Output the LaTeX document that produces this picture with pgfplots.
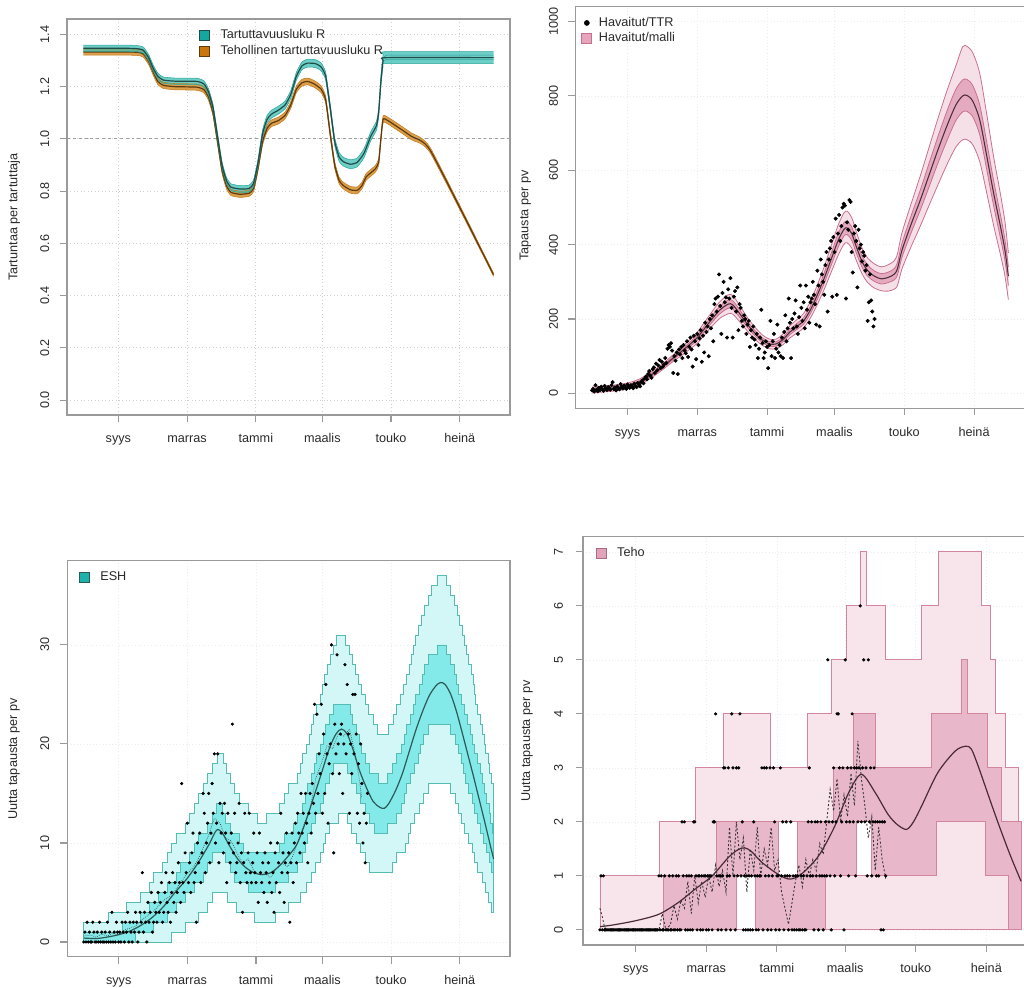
\documentclass[border=0pt]{standalone}
\usepackage{fontspec}
\setmainfont{Liberation Sans}
\usepackage{pgfplots}
\pgfplotsset{compat=1.18}
\usepackage{pgfplotstable}
\usepgfplotslibrary{fillbetween}

\definecolor{axgray}{HTML}{9A9A9A}
\definecolor{txt}{HTML}{2A2A2A}
\definecolor{tealF}{HTML}{3CBDB3}
\definecolor{tealE}{HTML}{2AA79D}
\definecolor{tealC}{HTML}{1F4C48}
\definecolor{tealL}{HTML}{15A69D}
\definecolor{orF}{HTML}{D68E2E}
\definecolor{orE}{HTML}{C27A18}
\definecolor{orC}{HTML}{5E3A0E}
\definecolor{orL}{HTML}{C9760E}
\definecolor{pkO}{HTML}{F6E0E8}
\definecolor{pkI}{HTML}{E4ABC0}
\definecolor{pkE}{HTML}{C9708F}
\definecolor{pkC}{HTML}{4E2C39}
\definecolor{pkL}{HTML}{E6A5BC}
\definecolor{cyO}{HTML}{D3F6F6}
\definecolor{cyI}{HTML}{84E9E9}
\definecolor{cyE}{HTML}{55BCB2}
\definecolor{cyC}{HTML}{2C5A56}
\definecolor{cyL}{HTML}{1DB2AB}
\definecolor{p4O}{HTML}{F8E5EC}
\definecolor{p4I}{HTML}{E8B8CA}
\definecolor{p4E}{HTML}{D3859E}
\definecolor{p4C}{HTML}{4A2A36}
\definecolor{p4L}{HTML}{E2A3B9}

\pgfplotsset{
  rbase/.style={
    scale only axis,
    xmin=-45.6, xmax=347.6,
    axis line style={draw=axgray, line width=0.8pt},
    xtick={0,61,122,181,242,303},
    xticklabels={syys,marras,tammi,maalis,touko,heinä},
    tick align=outside, tick pos=left,
    major tick length=5.25pt,
    tick style={draw=axgray, line width=0.8pt},
    grid=major,
    major grid style={draw=gray!22, dotted, line width=0.6pt},
    ticklabel style={font=\fontsize{9.5}{11}\selectfont, text=txt, inner sep=0pt},
    /pgf/number format/assume math mode=true,
    xticklabel style={anchor=base},
    xticklabel shift=15.75pt,
    yticklabel style={rotate=90, anchor=south},
    label style={font=\fontsize{9.5}{11}\selectfont, text=txt},
    legend style={draw=none, fill=none, font=\fontsize{9.5}{11}\selectfont, text=txt,
      nodes={inner sep=0pt, text height=7pt, text depth=2pt},
      row sep=3pt, column sep=8.25pt, inner sep=0pt, anchor=north west},
    legend cell align=left,
  }
}

% ---------- panel 1 tables
\pgfplotstableread{
x c lo hi
-31 1.347 1.335 1.359
0 1.347 1.335 1.359
15 1.346 1.334 1.358
22 1.340 1.328 1.352
27 1.310 1.298 1.322
31 1.270 1.258 1.282
35 1.240 1.228 1.252
40 1.225 1.213 1.237
50 1.221 1.209 1.233
70 1.220 1.208 1.232
76 1.210 1.198 1.222
80 1.180 1.168 1.192
84 1.120 1.108 1.132
88 1.010 0.998 1.022
92 0.900 0.888 0.912
96 0.840 0.828 0.852
100 0.815 0.802 0.828
108 0.808 0.795 0.821
116 0.810 0.797 0.823
120 0.830 0.817 0.843
124 0.910 0.897 0.923
128 1.020 1.005 1.035
132 1.075 1.060 1.090
136 1.095 1.080 1.110
142 1.110 1.095 1.125
148 1.130 1.115 1.145
153 1.170 1.155 1.185
158 1.240 1.225 1.255
163 1.280 1.265 1.295
168 1.290 1.275 1.305
175 1.288 1.273 1.303
180 1.275 1.260 1.290
184 1.240 1.225 1.255
188 1.120 1.105 1.135
192 0.990 0.975 1.005
196 0.930 0.913 0.947
200 0.912 0.895 0.929
206 0.903 0.886 0.920
212 0.910 0.893 0.927
218 0.945 0.928 0.962
224 1.010 0.993 1.027
229 1.050 1.033 1.067
231 1.100 1.083 1.117
233 1.220 1.200 1.240
235 1.300 1.278 1.322
238 1.311 1.288 1.334
333 1.311 1.288 1.334
}\ponet

\pgfplotstableread{
x c lo hi
-31 1.333 1.321 1.345
15 1.332 1.320 1.344
22 1.325 1.313 1.337
27 1.295 1.283 1.307
31 1.255 1.243 1.267
35 1.220 1.208 1.232
40 1.205 1.193 1.217
50 1.200 1.188 1.212
70 1.198 1.186 1.210
76 1.188 1.176 1.200
80 1.160 1.148 1.172
84 1.100 1.088 1.112
88 0.990 0.978 1.002
92 0.880 0.868 0.892
96 0.820 0.808 0.832
100 0.795 0.783 0.807
108 0.788 0.776 0.800
116 0.792 0.780 0.804
120 0.810 0.798 0.822
124 0.890 0.878 0.902
128 0.990 0.977 1.003
132 1.040 1.027 1.053
136 1.060 1.047 1.073
142 1.070 1.057 1.083
148 1.090 1.077 1.103
153 1.130 1.117 1.143
158 1.190 1.177 1.203
163 1.215 1.202 1.228
168 1.220 1.207 1.233
174 1.210 1.197 1.223
180 1.190 1.177 1.203
184 1.150 1.137 1.163
188 1.020 1.007 1.033
192 0.900 0.887 0.913
196 0.840 0.827 0.853
200 0.820 0.807 0.833
206 0.805 0.792 0.818
212 0.803 0.790 0.816
216 0.820 0.807 0.833
220 0.855 0.842 0.868
224 0.870 0.857 0.883
228 0.885 0.872 0.898
231 0.910 0.897 0.923
233 1.000 0.987 1.013
235 1.075 1.062 1.088
240 1.068 1.055 1.081
260 1.010 0.997 1.023
277 0.955 0.945 0.965
333 0.480 0.474 0.486
}\poneo

% ---------- panel 2 table
\pgfplotstableread{
x c ol il ih oh
-31 9 1 5 13 17
-20 12 4 8 16 20
-10 15 7 11 19 23
0 20 12 16 24 28
10 30 22 26 34 38
20 48 40 44 52 56
30 70 62 66 74 78
40 95 86 91 99 104
50 120 108 115 125 132
61 150 135 143 157 165
70 185 167 177 193 203
80 222 200 212 232 244
88 240 214 229 251 265
92 238 213 227 249 263
98 215 193 205 225 237
105 185 167 177 193 203
112 160 144 153 167 176
118 143 129 137 149 157
124 133 120 127 139 146
130 133 120 127 139 146
136 145 131 139 151 160
142 165 149 158 172 182
148 180 162 172 188 198
154 195 176 186 204 215
160 225 203 215 235 248
166 265 239 253 277 292
172 310 280 296 324 341
178 360 325 344 376 396
184 410 370 392 428 451
189 440 400 422 458 484
192 445 405 427 463 490
196 430 391 412 448 473
200 395 358 378 412 435
205 355 322 340 370 391
210 330 298 315 345 364
216 315 283 301 329 348
222 308 276 294 322 340
228 312 275 298 326 346
233 320 280 305 335 356
236 335 290 318 352 375
240 385 335 366 404 432
248 455 395 432 478 510
256 520 450 493 547 585
264 590 508 558 622 665
272 660 565 624 696 745
280 725 620 685 765 820
287 775 662 733 817 880
293 800 682 757 843 932
297 801 682 758 844 933
302 785 668 743 827 915
308 735 623 695 775 860
314 640 540 603 677 752
320 540 453 506 574 638
326 450 374 419 481 537
330 385 316 357 413 462
333 315 252 290 340 378
}\ptwo

\begin{document}
\begin{tikzpicture}

% =================== PANEL 1 ===================
\begin{axis}[rbase, at={(50.25pt,429.75pt)}, anchor=south west,
  width=332.25pt, height=297pt,
  ymin=-0.057, ymax=1.459, ytick={0,0.2,0.4,0.6,0.8,1.0,1.2,1.4},
  yticklabel style={/pgf/number format/fixed, /pgf/number format/fixed zerofill, /pgf/number format/precision=1},
  yticklabel shift=7.9pt,
  ylabel={Tartuntaa per tartuttaja},
  ylabel style={at={([xshift=-39.75pt]axis description cs:0,0.5)}, anchor=center},
  legend style={at={(0.297,0.975)}},
  major grid style={draw=gray!38, dotted, line width=0.7pt},
]
\addlegendimage{legend image code/.code={\draw[fill=tealL, draw=tealC, line width=0.5pt] (0pt,-3.75pt) rectangle (7.5pt,3.75pt);}}
\addlegendentry{Tartuttavuusluku R}
\addlegendimage{legend image code/.code={\draw[fill=orL, draw=orC, line width=0.5pt] (0pt,-3.75pt) rectangle (7.5pt,3.75pt);}}
\addlegendentry{Tehollinen tartuttavuusluku R}

\addplot[gray!75, dash pattern=on 2.2pt off 2.2pt, line width=0.8pt] coordinates {(-45.6,1) (347.6,1)};

% orange band
\addplot[name path=o1h, draw=none, smooth, tension=0.3] table[x=x,y=hi]{\poneo};
\addplot[name path=o1l, draw=none, smooth, tension=0.3] table[x=x,y=lo]{\poneo};
\addplot[fill=orF, fill opacity=0.85, draw=none] fill between[of=o1h and o1l];
\addplot[orE, line width=0.4pt, smooth, tension=0.3] table[x=x,y=hi]{\poneo};
\addplot[orE, line width=0.4pt, smooth, tension=0.3] table[x=x,y=lo]{\poneo};
\addplot[orC, line width=0.9pt, smooth, tension=0.3] table[x=x,y=c]{\poneo};

% teal band
\addplot[name path=t1h, draw=none, smooth, tension=0.3] table[x=x,y=hi]{\ponet};
\addplot[name path=t1l, draw=none, smooth, tension=0.3] table[x=x,y=lo]{\ponet};
\addplot[fill=tealF, fill opacity=0.75, draw=none] fill between[of=t1h and t1l];
\addplot[tealE, line width=0.4pt, smooth, tension=0.3] table[x=x,y=hi]{\ponet};
\addplot[tealE, line width=0.4pt, smooth, tension=0.3] table[x=x,y=lo]{\ponet};
\addplot[tealE, line width=0.4pt] coordinates {(236,1.300) (238,1.304) (333,1.304)};
\addplot[tealE, line width=0.4pt] coordinates {(236,1.314) (238,1.321) (333,1.321)};
\addplot[tealC, line width=0.9pt, smooth, tension=0.3] table[x=x,y=c]{\ponet};
\end{axis}

% =================== PANEL 2 ===================
\begin{axis}[rbase, at={(431.5pt,434.8pt)}, anchor=south west,
  width=337.3pt, height=301.2pt,
  ymin=-40, ymax=1040, ytick={0,200,400,600,800,1000},
  yticklabel style={/pgf/number format/1000 sep={}},
  yticklabel shift=7.6pt,
  ylabel={Tapausta per pv},
  ylabel style={at={([xshift=-37.5pt]axis description cs:0,0.48)}, anchor=center},
  legend style={at={(0.013,0.975)}, column sep=5pt, row sep=2.25pt},
  major grid style={draw=gray!15, line width=0.5pt},
]
\addlegendimage{legend image code/.code={\fill[black] (3.75pt,0pt) circle (1.9pt);}}
\addlegendentry{Havaitut/TTR}
\addlegendimage{legend image code/.code={\draw[fill=pkL, draw=pkE, line width=0.6pt] (0pt,-3.75pt) rectangle (7.5pt,3.75pt);}}
\addlegendentry{Havaitut/malli}

\addplot[name path=p2oh, draw=none, smooth] table[x=x,y=oh]{\ptwo};
\addplot[name path=p2ol, draw=none, smooth] table[x=x,y=ol]{\ptwo};
\addplot[fill=pkO, draw=none] fill between[of=p2oh and p2ol];
\addplot[name path=p2ih, draw=none, smooth] table[x=x,y=ih]{\ptwo};
\addplot[name path=p2il, draw=none, smooth] table[x=x,y=il]{\ptwo};
\addplot[fill=pkI, draw=none] fill between[of=p2ih and p2il];
\addplot[pkE, line width=0.6pt, smooth] table[x=x,y=oh]{\ptwo};
\addplot[pkE, line width=0.6pt, smooth] table[x=x,y=ol]{\ptwo};
\addplot[pkE, line width=0.6pt, smooth] table[x=x,y=ih]{\ptwo};
\addplot[pkE, line width=0.6pt, smooth] table[x=x,y=il]{\ptwo};
\addplot[pkC, line width=0.8pt, smooth] table[x=x,y=c]{\ptwo};

\addplot[only marks, mark=*, mark size=1.3pt, black] coordinates {
(-31,8) (-30,12) (-29,5) (-28,22) (-27,10) (-26,6) (-25,15) (-24,9) (-23,18) (-22,11) (-21,7) (-20,20) (-19,13) (-18,9) (-17,17) (-16,14) (-15,10) (-14,22) (-13,30) (-12,12) (-11,16) (-10,8) (-9,19) (-8,14) (-7,11) (-6,25) (-5,17) (-4,13) (-3,21) (-2,16) (-1,12) (0,24) (1,18) (2,15) (3,22) (4,19) (5,14) (6,26) (7,20) (8,17) (9,28) (10,24) (11,19) (12,30) (13,35) (14,27) (15,40) (16,45) (17,38) (18,52) (19,60) (20,48) (21,42) (22,65) (23,70) (24,55) (25,80) (26,62) (27,75) (28,90) (29,68) (30,85) (31,72) (32,78) (33,95) (34,82) (35,120) (36,130) (37,125) (38,135) (39,115) (40,55) (41,100) (42,88) (43,110) (44,52) (45,118) (46,105) (47,125) (48,95) (49,130) (50,115) (51,108) (52,140) (53,98) (54,125) (55,150) (56,118) (57,72) (58,155) (59,140) (60,92) (61,160) (62,130) (63,148) (64,170) (65,85) (66,155) (67,110) (68,190) (69,165) (70,180) (71,100) (72,200) (73,175) (74,210) (75,140) (76,240) (77,255) (78,220) (79,260) (80,320) (81,235) (82,160) (83,270) (84,300) (85,245) (86,258) (87,150) (88,280) (89,255) (90,310) (91,230) (92,150) (93,260) (94,275) (95,220) (96,285) (97,170) (98,240) (99,230) (100,195) (101,180) (102,210) (103,200) (104,160) (105,185) (106,195) (107,125) (108,170) (109,150) (110,180) (111,145) (112,130) (113,160) (114,95) (115,120) (116,150) (117,225) (118,135) (119,95) (120,110) (121,140) (122,125) (123,68) (124,130) (125,195) (126,100) (127,140) (128,160) (129,95) (130,120) (131,185) (132,110) (133,130) (134,100) (135,150) (136,95) (137,165) (138,210) (139,140) (140,175) (141,255) (142,190) (143,95) (144,200) (145,175) (146,215) (147,250) (148,180) (149,160) (150,205) (151,290) (152,230) (153,195) (154,245) (155,175) (156,290) (157,225) (158,260) (159,190) (160,245) (161,255) (162,300) (163,265) (164,240) (165,185) (166,330) (167,290) (168,180) (169,360) (170,320) (171,300) (172,265) (173,345) (174,380) (175,220) (176,360) (177,390) (178,410) (179,260) (180,420) (181,380) (182,470) (183,265) (184,430) (185,480) (186,410) (187,450) (188,500) (189,510) (190,505) (191,255) (192,460) (193,440) (194,520) (195,515) (196,380) (197,325) (198,430) (199,450) (200,410) (201,285) (202,440) (203,390) (204,400) (205,355) (206,380) (207,370) (208,330) (209,345) (210,195) (211,245) (212,320) (213,250) (214,220) (215,180) (216,200)
};
\end{axis}

% =================== PANEL 3 ===================
\begin{axis}[rbase, at={(50.5pt,23.5pt)}, anchor=south west,
  width=332pt, height=296.8pt,
  ymin=-1.48, ymax=38.48, ytick={0,10,20,30},
  yticklabel shift=8.1pt,
  ylabel={Uutta tapausta per pv},
  ylabel style={at={([xshift=-40pt]axis description cs:0,0.5)}, anchor=center},
  legend style={at={(0.025,0.974)}},
  major grid style={draw=gray!15, line width=0.5pt},
]
\addlegendimage{legend image code/.code={\draw[fill=cyL, draw=cyC, line width=0.5pt] (0pt,-3.75pt) rectangle (7.5pt,3.75pt);}}
\addlegendentry{ESH}

\addplot[name path=p3ou, draw=none, const plot mark left] coordinates {(-31,2) (-9,3) (7,4) (19,5) (27,6) (31,7) (39,8) (43,9) (47,10) (51,11) (59,12) (63,13) (67,14) (71,15) (75,16) (79,17) (83,18) (88,19) (93,18) (96,17) (99,16) (103,15) (107,14) (115,13) (123,12) (131,13) (143,14) (147,15) (151,16) (159,17) (161,18) (163,19) (167,20) (169,21) (171,22) (173,23) (176,24) (179,25) (181,26) (183,27) (185,28) (188,29) (191,30) (193,31) (201,30) (205,29) (208,28) (210,27) (213,26) (216,25) (219,24) (222,23) (226,22) (230,21) (240,22) (244,23) (247,24) (250,25) (253,26) (256,27) (258,28) (260,29) (262,30) (264,31) (266,32) (269,33) (272,34) (275,35) (278,36) (283,37) (291,36) (295,35) (298,34) (301,33) (303,32) (305,31) (307,30) (309,29) (311,28) (313,27) (315,26) (316,25) (317,24) (319,23) (321,22) (323,21) (325,20) (326,19) (328,18) (329,17) (331,16) (333,15)};
\addplot[name path=p3ol, draw=none, const plot mark left] coordinates {(-31,0) (47,1) (59,2) (71,3) (79,4) (83,5) (97,4) (105,3) (121,2) (139,3) (151,4) (161,5) (167,6) (171,7) (175,8) (179,9) (182,10) (184,11) (187,12) (195,13) (203,12) (207,11) (211,10) (215,9) (219,8) (223,7) (243,8) (247,9) (255,10) (257,11) (259,12) (263,13) (267,14) (271,15) (275,16) (295,15) (299,14) (302,13) (304,12) (307,11) (311,10) (314,9) (316,8) (319,7) (323,6) (326,5) (328,4) (331,3) (333,3)};
\addplot[fill=cyO, draw=none] fill between[of=p3ou and p3ol];
\addplot[name path=p3iu, draw=none, const plot mark left] coordinates {(-31,1) (3,2) (19,3) (27,4) (35,5) (43,6) (51,7) (55,8) (63,9) (67,10) (71,11) (79,12) (83,13) (87,14) (92,13) (95,12) (99,11) (107,10) (111,9) (143,10) (147,11) (155,12) (159,13) (163,14) (166,15) (168,16) (171,17) (174,18) (176,19) (179,20) (182,21) (184,22) (187,23) (191,24) (206,23) (208,22) (211,21) (214,20) (216,19) (219,18) (223,17) (231,16) (239,17) (243,18) (247,19) (251,20) (254,21) (256,22) (259,23) (262,24) (264,25) (267,26) (270,27) (272,28) (275,29) (283,30) (291,29) (295,28) (298,27) (300,26) (302,25) (304,24) (307,23) (310,22) (312,21) (314,20) (316,19) (319,18) (321,17) (323,16) (325,15) (327,14) (329,13) (330,12) (332,11) (333,10)};
\addplot[name path=p3il, draw=none, const plot mark left] coordinates {(-31,0) (15,1) (31,2) (43,3) (51,4) (59,5) (67,6) (75,7) (79,8) (83,9) (95,8) (99,7) (103,6) (115,5) (139,6) (151,7) (159,8) (163,9) (166,10) (168,11) (171,12) (175,13) (179,14) (182,15) (184,16) (187,17) (191,18) (203,17) (207,16) (211,15) (215,14) (219,13) (223,12) (227,11) (239,12) (247,13) (251,14) (254,15) (256,16) (259,17) (263,18) (266,19) (268,20) (271,21) (275,22) (295,21) (299,20) (302,19) (304,18) (306,17) (308,16) (311,15) (314,14) (316,13) (319,12) (321,11) (324,10) (327,9) (329,8) (331,7) (333,7)};
\addplot[fill=cyI, draw=none] fill between[of=p3iu and p3il];

\addplot[cyE, line width=0.6pt, const plot mark left] coordinates {(-31,0) (-31,2) (-9,3) (7,4) (19,5) (27,6) (31,7) (39,8) (43,9) (47,10) (51,11) (59,12) (63,13) (67,14) (71,15) (75,16) (79,17) (83,18) (88,19) (93,18) (96,17) (99,16) (103,15) (107,14) (115,13) (123,12) (131,13) (143,14) (147,15) (151,16) (159,17) (161,18) (163,19) (167,20) (169,21) (171,22) (173,23) (176,24) (179,25) (181,26) (183,27) (185,28) (188,29) (191,30) (193,31) (201,30) (205,29) (208,28) (210,27) (213,26) (216,25) (219,24) (222,23) (226,22) (230,21) (240,22) (244,23) (247,24) (250,25) (253,26) (256,27) (258,28) (260,29) (262,30) (264,31) (266,32) (269,33) (272,34) (275,35) (278,36) (283,37) (291,36) (295,35) (298,34) (301,33) (303,32) (305,31) (307,30) (309,29) (311,28) (313,27) (315,26) (316,25) (317,24) (319,23) (321,22) (323,21) (325,20) (326,19) (328,18) (329,17) (331,16) (333,15) (333,3)};
\addplot[cyE, line width=0.6pt, const plot mark left] coordinates {(-31,0) (47,1) (59,2) (71,3) (79,4) (83,5) (97,4) (105,3) (121,2) (139,3) (151,4) (161,5) (167,6) (171,7) (175,8) (179,9) (182,10) (184,11) (187,12) (195,13) (203,12) (207,11) (211,10) (215,9) (219,8) (223,7) (243,8) (247,9) (255,10) (257,11) (259,12) (263,13) (267,14) (271,15) (275,16) (295,15) (299,14) (302,13) (304,12) (307,11) (311,10) (314,9) (316,8) (319,7) (323,6) (326,5) (328,4) (331,3) (333,3)};
\addplot[cyE, line width=0.6pt, const plot mark left] coordinates {(-31,1) (3,2) (19,3) (27,4) (35,5) (43,6) (51,7) (55,8) (63,9) (67,10) (71,11) (79,12) (83,13) (87,14) (92,13) (95,12) (99,11) (107,10) (111,9) (143,10) (147,11) (155,12) (159,13) (163,14) (166,15) (168,16) (171,17) (174,18) (176,19) (179,20) (182,21) (184,22) (187,23) (191,24) (206,23) (208,22) (211,21) (214,20) (216,19) (219,18) (223,17) (231,16) (239,17) (243,18) (247,19) (251,20) (254,21) (256,22) (259,23) (262,24) (264,25) (267,26) (270,27) (272,28) (275,29) (283,30) (291,29) (295,28) (298,27) (300,26) (302,25) (304,24) (307,23) (310,22) (312,21) (314,20) (316,19) (319,18) (321,17) (323,16) (325,15) (327,14) (329,13) (330,12) (332,11) (333,10)};
\addplot[cyE, line width=0.6pt, const plot mark left] coordinates {(-31,0) (15,1) (31,2) (43,3) (51,4) (59,5) (67,6) (75,7) (79,8) (83,9) (95,8) (99,7) (103,6) (115,5) (139,6) (151,7) (159,8) (163,9) (166,10) (168,11) (171,12) (175,13) (179,14) (182,15) (184,16) (187,17) (191,18) (203,17) (207,16) (211,15) (215,14) (219,13) (223,12) (227,11) (239,12) (247,13) (251,14) (254,15) (256,16) (259,17) (263,18) (266,19) (268,20) (271,21) (275,22) (295,21) (299,20) (302,19) (304,18) (306,17) (308,16) (311,15) (314,14) (316,13) (319,12) (321,11) (324,10) (327,9) (329,8) (331,7) (333,7)};

\addplot[cyC, line width=0.9pt, smooth] coordinates {(-31,0.4) (-20,0.35) (-10,0.5) (0,0.74) (10,1.1) (20,1.7) (30,2.5) (40,3.6) (50,5.0) (60,6.3) (70,7.9) (80,9.8) (87,11.3) (92,11.0) (98,9.8) (105,8.5) (112,7.6) (120,7.0) (128,6.8) (135,7.0) (142,7.6) (150,8.6) (158,9.8) (165,11.8) (172,14.2) (180,17.0) (187,19.5) (193,21.0) (198,21.5) (203,21.0) (208,19.5) (214,17.3) (220,15.6) (226,14.2) (232,13.6) (236,13.5) (240,14.0) (246,15.3) (252,17.0) (258,19.2) (264,21.4) (270,23.3) (276,24.9) (282,25.9) (286,26.2) (290,26.0) (295,25.0) (300,23.3) (305,21.2) (310,19.0) (315,16.8) (320,14.5) (325,12.2) (330,9.8) (333,8.4)};

\addplot[black!75, densely dotted, line width=0.5pt] coordinates {(-31,0.6) (-25,0.7) (-20,0.5) (-15,0.8) (-10,0.6) (-5,0.9) (0,0.7) (5,1.2) (10,1.4) (15,1.6) (20,2.2) (25,2.6) (30,3.0) (35,3.6) (40,4.2) (45,4.6) (50,5.2) (55,6.0) (60,6.8) (65,7.4) (70,8.2) (75,9.5) (80,10.8) (85,12.5) (90,12.0) (95,10.5) (100,10.2) (105,9.0) (110,8.0) (115,8.4) (120,7.2) (125,6.8) (130,6.9) (135,6.5) (140,7.4) (145,8.0) (150,7.6) (155,8.8) (160,10.4) (165,12.0) (170,13.4) (175,16.5) (180,18.0) (185,19.8) (190,19.5) (195,21.0) (200,20.8) (205,21.5) (210,19.0) (213,17.0) (216,14.5)};

\addplot[only marks, mark=*, mark size=1pt, black] coordinates {
(-31,0) (-30,1) (-29,0) (-28,2) (-27,0) (-26,1) (-25,0) (-24,0) (-23,2) (-22,1) (-21,0) (-20,0) (-19,1) (-18,0) (-17,2) (-16,0) (-15,1) (-14,0) (-13,0) (-12,1) (-11,0) (-10,2) (-9,0) (-8,1) (-7,0) (-6,3) (-5,0) (-4,1) (-3,0) (-2,2) (-1,1) (0,0) (1,1) (2,0) (3,2) (4,1) (5,0) (6,2) (7,1) (8,3) (9,0) (10,2) (11,1) (12,0) (13,2) (14,1) (15,3) (16,2) (17,0) (18,1) (19,3) (20,2) (21,7) (22,1) (23,3) (24,2) (25,0) (26,4) (27,2) (28,3) (29,5) (30,1) (31,2) (32,4) (33,3) (34,2) (35,5) (36,3) (37,4) (38,6) (39,2) (40,3) (41,5) (42,7) (43,4) (44,3) (45,6) (46,2) (47,5) (48,7) (49,4) (50,6) (51,3) (52,5) (53,8) (54,6) (55,4) (56,16) (57,6) (58,5) (59,9) (60,7) (61,12) (62,6) (63,8) (64,5) (65,9) (66,11) (67,6) (68,7) (69,2) (70,10) (71,8) (72,11) (73,6) (74,9) (75,15) (76,13) (77,7) (78,10) (79,12) (80,15) (81,8) (82,11) (83,16) (84,13) (85,19) (86,10) (87,12) (88,19) (89,8) (90,14) (91,11) (92,13) (93,9) (94,14) (95,11) (96,6) (97,13) (98,10) (99,8) (100,11) (101,22) (102,9) (103,13) (104,7) (105,8) (106,10) (107,14) (108,6) (109,9) (110,3) (111,8) (112,13) (113,7) (114,6) (115,9) (116,13) (117,7) (118,6) (119,8) (120,11) (121,7) (122,6) (123,9) (124,4) (125,11) (126,7) (127,6) (128,8) (129,5) (130,9) (131,7) (132,4) (133,8) (134,6) (135,10) (136,5) (137,7) (138,3) (139,9) (140,6) (141,10) (142,8) (143,5) (144,13) (145,7) (146,9) (147,4) (148,8) (149,11) (150,7) (151,9) (152,2) (153,8) (154,11) (155,6) (156,10) (157,12) (158,8) (159,13) (160,11) (161,9) (162,15) (163,11) (164,13) (165,10) (166,15) (167,12) (168,8) (169,13) (170,15) (171,11) (172,16) (173,14) (174,24) (175,13) (176,23) (177,15) (178,19) (179,17) (180,24) (181,13) (182,21) (183,15) (184,26) (185,19) (186,12) (187,18) (188,20) (189,30) (190,17) (191,9) (192,22) (193,19) (194,29) (195,20) (196,17) (197,21) (198,22) (199,15) (200,20) (201,28) (202,19) (203,26) (204,21) (205,13) (206,20) (207,17) (208,25) (209,19) (210,25) (211,21) (212,13) (213,18) (214,12) (215,20) (216,16) (217,10) (218,13) (219,8) (220,12) (221,15)
};
\end{axis}

% =================== PANEL 4 ===================
\begin{axis}[rbase, at={(437.25pt,32.25pt)}, anchor=south west,
  width=341.2pt, height=306.2pt,
  ymin=-0.28, ymax=7.28, ytick={0,1,2,3,4,5,6,7},
  yticklabel shift=9.6pt,
  ylabel={Uutta tapausta per pv},
  ylabel style={at={([xshift=-42pt]axis description cs:0,0.5)}, anchor=center},
  legend style={at={(0.027,0.974)}},
  major grid style={draw=gray!15, line width=0.5pt},
]
\addlegendimage{legend image code/.code={\draw[fill=p4L, draw=p4E!80!black, line width=0.5pt] (0pt,-3.75pt) rectangle (7.5pt,3.75pt);}}
\addlegendentry{Teho}

\addplot[name path=p4ou, draw=none, const plot mark left] coordinates {(-31,1) (20.5,2) (51.9,3) (76.1,4) (116.2,3) (148,4) (169.4,5) (182.2,6) (193.8,7) (199.6,6) (215.5,5) (247,6) (261.6,7) (299,6) (306.2,5) (310.6,4) (319.2,3) (330.7,2) (333,2)};
\addplot[name path=p4base, draw=none] coordinates {(-31,0) (333,0)};
\addplot[fill=p4O, draw=none] fill between[of=p4ou and p4base];

\addplot[fill=white, draw=p4E, line width=0.6pt] coordinates {(87,0) (87,1) (103,1) (103,0)} -- cycle;
\addplot[fill=white, draw=p4E, line width=0.6pt] coordinates {(123.4,1) (123.4,2) (139.3,2) (139.3,1)} -- cycle;
\addplot[fill=white, draw=p4E, line width=0.6pt] coordinates {(191,1) (191,2) (204,2) (204,1)} -- cycle;

\addplot[name path=p4iu, draw=none, const plot mark left] coordinates {(-31,0) (24,1) (70,2) (123.4,1) (139.3,2) (170.7,3) (188,4) (206.7,3) (255.8,4) (281.7,5) (286.9,4) (304.2,3) (316.3,2) (333,2)};
\addplot[name path=p4il, draw=none, const plot mark left] coordinates {(-31,0) (87,1) (103,0) (164,1) (191,2) (204,1) (260,2) (302,1) (322,0) (333,0)};
\addplot[fill=p4I, draw=none] fill between[of=p4iu and p4il];

\addplot[p4E, line width=0.6pt, const plot mark left] coordinates {(-31,0) (-31,1) (20.5,2) (51.9,3) (76.1,4) (116.2,3) (148,4) (169.4,5) (182.2,6) (193.8,7) (199.6,6) (215.5,5) (247,6) (261.6,7) (299,6) (306.2,5) (310.6,4) (319.2,3) (330.7,2) (333,2) (333,0)};
\addplot[p4E, line width=0.6pt] coordinates {(-31,0) (333,0)};
\addplot[p4E, line width=0.6pt, const plot mark left] coordinates {(-31,0) (24,1) (70,2) (123.4,1) (139.3,2) (170.7,3) (188,4) (206.7,3) (255.8,4) (281.7,5) (286.9,4) (304.2,3) (316.3,2) (333,2)};
\addplot[p4E, line width=0.6pt, const plot mark left] coordinates {(-31,0) (87,1) (103,0) (164,1) (191,2) (204,1) (260,2) (302,1) (322,0) (333,0)};

\addplot[p4C, line width=0.9pt, smooth] coordinates {(-31,0.06) (-20,0.09) (0,0.17) (20,0.29) (37,0.51) (51,0.75) (66,1.0) (80,1.34) (88,1.48) (94,1.52) (100,1.45) (109,1.25) (123,1.03) (133,0.94) (143,1.03) (158,1.37) (172,1.92) (184,2.54) (195,2.88) (207,2.54) (218,2.14) (226,1.95) (234,1.86) (240,2.0) (247,2.29) (261,2.91) (276,3.31) (285,3.4) (290,3.35) (296,3.03) (303,2.6) (311,2.11) (318,1.7) (325,1.31) (333,0.9)};

\addplot[black!80, dash pattern=on 1.5pt off 1.5pt, line width=0.65pt] coordinates {(-31,0.4) (-29,0.25) (-27,0.05) (-25,0) (20,0) (23,0.3) (26,0) (30,0.1) (33,0.45) (36,0.2) (39,0.55) (42,0.4) (45,0.9) (48,0.3) (51,1.0) (54,0.5) (57,0.9) (60,0.6) (63,1.0) (66,0.7) (69,1.2) (72,0.8) (75,1.1) (78,0.7) (81,1.9) (84,1.0) (87,2.0) (90,1.3) (93,1.7) (96,0.7) (99,1.5) (102,1.1) (105,1.9) (108,1.0) (111,1.5) (114,1.2) (117,1.9) (120,1.1) (123,1.3) (126,0.7) (129,0.4) (132,0.1) (135,0.5) (138,0.9) (141,1.2) (144,0.8) (147,1.3) (150,1.0) (153,1.3) (156,1.1) (159,1.6) (162,1.4) (165,2.0) (168,2.6) (171,2.2) (174,2.8) (177,2.0) (180,2.5) (183,2.1) (186,2.9) (189,2.3) (192,3.5) (195,2.8) (198,2.3) (201,1.7) (204,2.1) (207,1.1) (210,1.9) (213,1.3) (216,0.95)};

\addplot[only marks, mark=*, mark size=1pt, black] coordinates {
(-31,0) (-30,1) (-29,0) (-28,1) (-27,0) (-26,0) (-25,0) (-24,0) (-23,0) (-22,0) (-21,0) (-20,0) (-19,0) (-18,0) (-17,0) (-16,0) (-15,0) (-14,0) (-13,0) (-12,0) (-11,0) (-10,0) (-9,0) (-8,0) (-7,0) (-6,0) (-5,0) (-4,0) (-3,0) (-2,0) (-1,0) (0,0) (1,0) (2,0) (3,0) (4,0) (5,0) (6,0) (7,0) (8,0) (9,0) (10,0) (11,0) (12,0) (13,0) (14,0) (15,0) (16,0) (17,0) (18,0) (19,0) (20,1) (21,0) (22,1) (23,0) (24,0) (25,1) (26,0) (27,0) (28,0) (29,1) (30,0) (31,0) (32,1) (33,0) (34,0) (35,1) (36,0) (37,1) (38,0) (39,0) (40,2) (41,1) (42,2) (43,0) (44,1) (45,0) (46,1) (47,0) (48,1) (49,0) (50,2) (51,2) (52,1) (53,0) (54,1) (55,1) (56,0) (57,1) (58,0) (59,1) (60,1) (61,0) (62,1) (63,0) (64,1) (65,1) (66,0) (67,2) (68,2) (69,4) (70,1) (71,0) (72,1) (73,1) (74,0) (75,1) (76,3) (77,3) (78,0) (79,1) (80,3) (81,1) (82,0) (83,4) (84,3) (85,1) (86,0) (87,3) (88,1) (89,3) (90,4) (91,1) (92,2) (93,0) (94,1) (95,0) (96,1) (97,0) (98,1) (99,0) (100,1) (101,0) (102,2) (103,1) (104,0) (105,1) (106,0) (107,1) (108,1) (109,3) (110,0) (111,3) (112,1) (113,3) (114,0) (115,1) (116,3) (117,0) (118,1) (119,3) (120,2) (121,0) (122,1) (123,1) (124,0) (125,3) (126,1) (127,2) (128,0) (129,1) (130,2) (131,1) (132,0) (133,1) (134,2) (135,0) (136,1) (137,0) (138,1) (139,0) (140,1) (141,0) (142,0) (143,1) (144,0) (145,1) (146,0) (147,0) (148,1) (149,2) (150,3) (151,1) (152,2) (153,1) (154,0) (155,2) (156,1) (157,2) (158,0) (159,1) (160,2) (161,1) (162,0) (163,1) (164,2) (165,1) (166,5) (167,2) (168,1) (169,0) (170,2) (171,3) (172,1) (173,2) (174,4) (175,4) (176,3) (177,1) (178,2) (179,3) (180,0) (181,5) (182,2) (183,3) (184,1) (185,2) (186,3) (187,4) (188,2) (189,3) (190,1) (191,3) (192,2) (193,3) (194,6) (195,2) (196,3) (197,5) (198,2) (199,3) (200,1) (201,5) (202,2) (203,3) (204,1) (205,2) (206,3) (207,2) (208,1) (209,2) (210,1) (211,2) (212,0) (213,2) (214,0) (215,2) (216,1)
};
\end{axis}

\pgfresetboundingbox
\path[use as bounding box] (0,0) rectangle (768pt,741pt);
\end{tikzpicture}
\end{document}
